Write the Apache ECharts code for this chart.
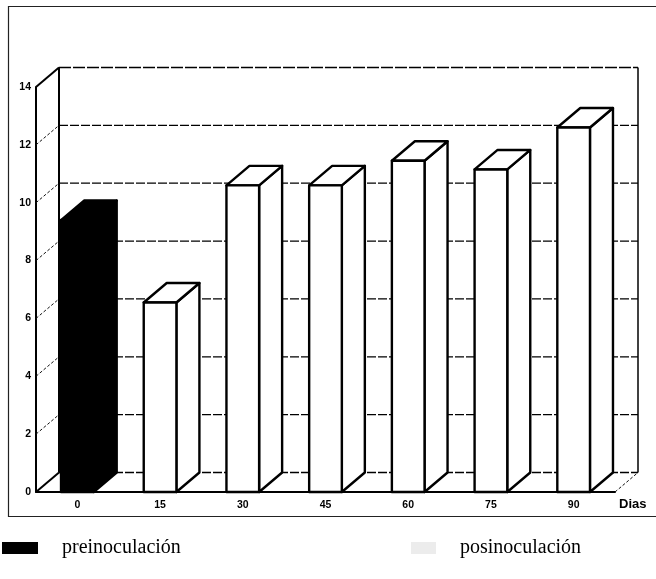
<!DOCTYPE html>
<html>
<head>
<meta charset="utf-8">
<script src="https://cdn.jsdelivr.net/npm/echarts@6/dist/echarts.min.js"></script>
<style>
  html, body { margin: 0; padding: 0; background: #ffffff; }
  #chart { width: 656px; height: 579px; }
</style>
</head>
<body>
<div id="chart"></div>
<script>
// ---- data ----
const categories = ['0', '15', '30', '45', '60', '75', '90'];
const preinoculacion = [9.4, null, null, null, null, null, null];
const posinoculacion = [null, 6.55, 10.6, 10.6, 11.45, 11.15, 12.6];
const yTicks = [0, 2, 4, 6, 8, 10, 12, 14];
const xAxisName = 'Dias';
const seriesNames = ['preinoculación', 'posinoculación'];

// ---- 3D look ----
const DX = 23, DY = -19.5;
const BAR_FRAC = 0.395;

function toItems(arr) {
  const out = [];
  arr.forEach((v, i) => { if (v !== null) out.push([i, v]); });
  return out;
}

function makeBarRenderer(fill) {
  return function (params, api) {
    const idx = api.value(0), val = api.value(1);
    const base = api.coord([idx, 0]);
    const top = api.coord([idx, val]);
    const bw = api.size([1, 0])[0] * BAR_FRAC;
    const x0 = base[0] - bw / 2, x1 = base[0] + bw / 2;
    const yb = base[1], yt = top[1];
    const st = { fill: fill, stroke: '#000', lineWidth: 2.4, lineJoin: 'round' };
    return {
      type: 'group',
      children: [
        { type: 'polygon', shape: { points: [[x1, yt], [x1 + DX, yt + DY], [x1 + DX, yb + DY], [x1, yb]] }, style: st },
        { type: 'polygon', shape: { points: [[x0, yt], [x1, yt], [x1 + DX, yt + DY], [x0 + DX, yt + DY]] }, style: st },
        { type: 'rect', shape: { x: x0, y: yt, width: bw, height: yb - yt }, style: st }
      ]
    };
  };
}

function renderFrame(params, api) {
  const cs = params.coordSys;
  const L = cs.x, R = cs.x + cs.width;
  const y0 = api.coord([0, yTicks[0]])[1];
  const yTop = api.coord([0, yTicks[yTicks.length - 1]])[1];
  const thin = { stroke: '#000', lineWidth: 1.3, lineDash: [9, 2] };
  const solid = { stroke: '#000', lineWidth: 2 };
  const children = [];
  yTicks.forEach((v, k) => {
    const y = api.coord([0, v])[1];
    const last = k === yTicks.length - 1;
    children.push({ type: 'line', shape: { x1: L + DX, y1: y + DY, x2: R + DX, y2: y + DY },
      style: last ? { stroke: '#000', lineWidth: 1.4, lineDash: [12, 2] } : thin });
    children.push({ type: 'line', shape: { x1: L, y1: y, x2: L + DX, y2: y + DY },
      style: (k === 0 || last) ? solid : { stroke: '#111', lineWidth: 1, lineDash: [3, 2] } });
  });
  children.push({ type: 'line', shape: { x1: L + DX, y1: yTop + DY, x2: L + DX, y2: y0 + DY }, style: solid });
  children.push({ type: 'line', shape: { x1: R + DX, y1: yTop + DY, x2: R + DX, y2: y0 + DY }, style: { stroke: '#000', lineWidth: 1.5 } });
  children.push({ type: 'line', shape: { x1: R, y1: y0, x2: R + DX, y2: y0 + DY }, style: { stroke: '#111', lineWidth: 1, lineDash: [3, 2] } });
  return { type: 'group', children: children };
}

const chart = echarts.init(document.getElementById('chart'), null, { renderer: 'canvas' });

const tickFont = { fontFamily: 'Liberation Sans, Arial, sans-serif', fontWeight: 'bold', fontSize: 10.5, color: '#000' };
const legendFont = { fontFamily: 'Liberation Serif, Times New Roman, serif', fontSize: 20, color: '#000', padding: [0, 0, 0, 19] };

chart.setOption({
  backgroundColor: '#ffffff',
  animation: false,
  graphic: [
    { type: 'rect', z: 0, shape: { x: 8.5, y: 6.5, width: 700, height: 510 },
      style: { fill: 'none', stroke: '#222', lineWidth: 1.2 } }
  ],
  grid: { left: 36, right: 41, top: 87, bottom: 87, containLabel: false },
  legend: [
    { data: [{ name: seriesNames[0], icon: 'rect', itemStyle: { color: '#000' } }],
      left: 2, top: 538, padding: 0, itemWidth: 36, itemHeight: 12, selectedMode: false,
      textStyle: legendFont },
    { data: [{ name: seriesNames[1], icon: 'rect', itemStyle: { color: '#ececec' } }],
      left: 411, top: 538, padding: 0, itemWidth: 25, itemHeight: 12, selectedMode: false,
      textStyle: legendFont }
  ],
  xAxis: {
    type: 'category',
    data: categories,
    boundaryGap: true,
    name: xAxisName,
    nameLocation: 'end',
    nameGap: 4,
    nameTextStyle: { fontFamily: 'Liberation Sans, Arial, sans-serif', fontWeight: 'bold', fontSize: 13, color: '#000',
      verticalAlign: 'top', padding: [6, 0, 0, 0] },
    axisLine: { show: true, lineStyle: { color: '#000', width: 2 } },
    axisTick: { show: false },
    axisLabel: Object.assign({ margin: 8 }, tickFont),
    splitLine: { show: false }
  },
  yAxis: {
    type: 'value',
    min: yTicks[0],
    max: yTicks[yTicks.length - 1],
    interval: 2,
    axisLine: { show: true, lineStyle: { color: '#000', width: 2 } },
    axisTick: { show: false },
    axisLabel: Object.assign({ margin: 5 }, tickFont),
    splitLine: { show: false }
  },
  series: [
    { type: 'custom', name: 'marco', z: 1, silent: true, renderItem: renderFrame, data: [[0, 0]] },
    { type: 'custom', name: seriesNames[0], z: 3, renderItem: makeBarRenderer('#000'),
      itemStyle: { color: '#000' }, data: toItems(preinoculacion) },
    { type: 'custom', name: seriesNames[1], z: 3, renderItem: makeBarRenderer('#fff'),
      itemStyle: { color: '#ececec' }, data: toItems(posinoculacion) }
  ]
});
</script>
</body>
</html>
